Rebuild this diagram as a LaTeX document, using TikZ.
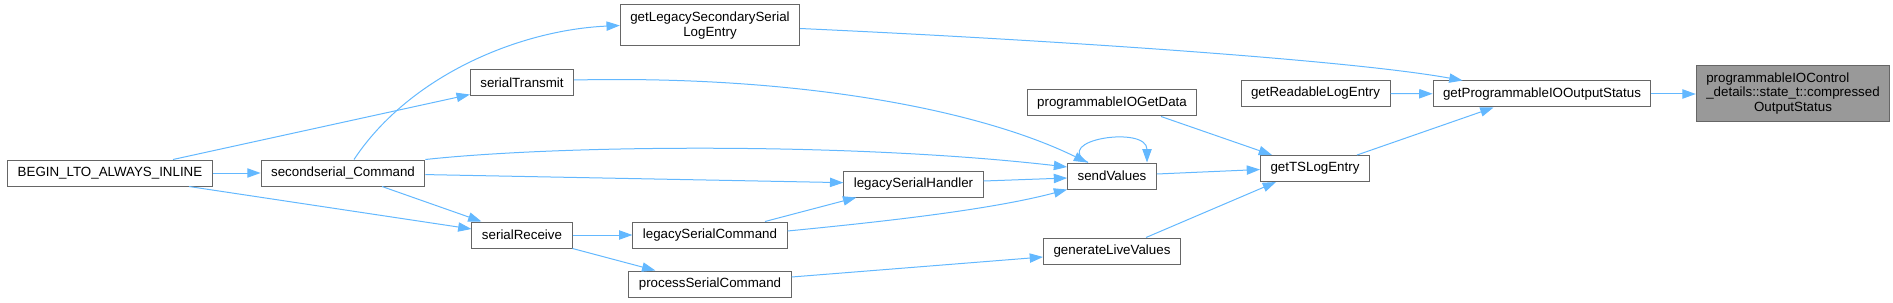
\documentclass[tikz,border=0pt]{standalone}
\usepackage{fontspec}
\setmainfont{Liberation Sans}
\usepackage{tikz}
\usetikzlibrary{arrows.meta,calc}
\definecolor{dxedge}{HTML}{63B8FF}
\definecolor{dxline}{HTML}{666666}
\definecolor{dxsel}{HTML}{999999}
\tikzset{
  ed/.style={-{Triangle[length=10pt,width=7pt]},line width=0.75pt,dxedge}
}

\begin{document}
\begin{tikzpicture}[x=0.75pt,y=-0.75pt,
  fn/.style={draw=dxline,fill=white,line width=0.75pt,inner xsep=7.5pt,inner ysep=2pt,
    minimum height=19.5pt,font=\fontsize{10pt}{11pt}\selectfont,align=center},
  sel/.style={fill=dxsel}]
\useasboundingbox (0,0) rectangle (1893,303);
\node[fn] (begin) at (110,173) {BEGIN\_LTO\_ALWAYS\_INLINE};
\node[fn] (ssc) at (343,173) {secondserial\_Command};
\node[fn] (stx) at (522,83) {serialTransmit};
\node[fn] (srx) at (522,235) {serialReceive};
\node[fn,minimum height=30.75pt] (glss) at (710,25.5) {getLegacySecondarySerial\\LogEntry};
\node[fn] (lsh) at (913.5,184) {legacySerialHandler};
\node[fn] (lsc) at (710,235) {legacySerialCommand};
\node[fn] (psc) at (710,284) {processSerialCommand};
\node[fn] (piogd) at (1112,103) {programmableIOGetData};
\node[fn] (sv) at (1112,176) {sendValues};
\node[fn] (glv) at (1112,251) {generateLiveValues};
\node[fn] (grle) at (1315.5,93.5) {getReadableLogEntry};
\node[fn] (gts) at (1315,168.5) {getTSLogEntry};
\node[fn] (gpios) at (1542,94) {getProgrammableIOOutputStatus};
\node[fn,sel,minimum height=42pt] (cos) at (1793,94) {\begin{tabular}{@{}l@{}}programmableIOControl\\
  \_details::state\_t::compressed\\ \multicolumn{1}{@{}c@{}}{OutputStatus}\end{tabular}};
% calls into the left half
\draw[ed] (begin) -- (ssc);
\draw[ed] ($(begin.north)+(63,0)$) -- ($(stx.south west)+(0,-2)$);
\draw[ed] ($(begin.south)+(79,0)$) -- ($(srx.west)+(0,-6)$);
\draw[ed] ($(ssc.north)+(11,0)$) .. controls (410,75) and (520,30) .. (glss.west);
\draw[ed] ($(ssc.south)+(39,0)$) -- ($(srx.north west)+(10,0)$);
\draw[ed] (ssc.north east) .. controls (560,145) and (850,142) .. ($(sv.west)+(0,-9)$);
\draw[ed] (ssc) -- (lsh);
\draw[ed] ($(stx.east)+(0,-3)$) .. controls (800,75) and (980,110) .. ($(sv.north west)+(20,0)$);
\draw[ed] (srx) -- (lsc);
\draw[ed] (srx.south east) -- ($(psc.north west)+(27,0)$);
% middle
\draw[ed] ($(lsh.east)+(0,-3)$) -- ($(sv.west)+(0,2)$);
\draw[ed] ($(lsc.north)+(55,0)$) -- ($(lsh.south west)+(13,0)$);
\draw[ed] ($(lsc.east)+(0,-4)$) .. controls (880,222) and (990,210) .. (sv.south west);
\draw[ed] ($(psc.east)+(0,-7)$) -- ($(glv.west)+(0,6)$);
\draw[ed] ($(sv.north)+(-24,0)$) .. controls (1050,140) and (1147,125) .. ($(sv.north)+(35,0)$);
\draw[ed] ($(sv.east)+(0,-2)$) -- ($(gts.west)+(0,1)$);
\draw[ed] ($(piogd.south)+(49,0)$) -- ($(gts.north west)+(12,0)$);
\draw[ed] ($(glv.north)+(34,0)$) -- ($(gts.south west)+(16,0)$);
% right half
\draw[ed] ($(glss.east)+(0,3)$) .. controls (1050,40) and (1350,60) .. ($(gpios.north west)+(30,0)$);
\draw[ed] (grle) -- (gpios);
\draw[ed] ($(gts.north)+(42,0)$) -- ($(gpios.south west)+(61,0)$);
\draw[ed] (gpios) -- (cos);
\end{tikzpicture}
\end{document}
